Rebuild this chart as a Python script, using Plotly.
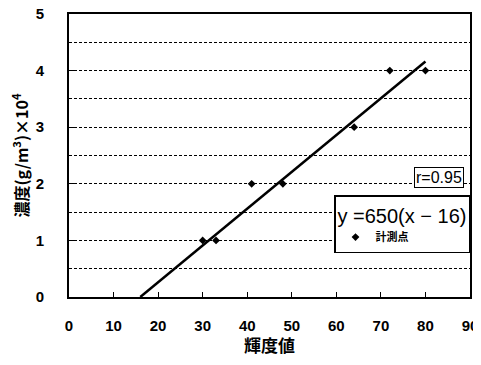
import plotly.graph_objects as go

# measured points
brightness = [30, 33, 41, 48, 64, 72, 80]
concentration = [1, 1, 2, 2, 3, 4, 4]

# regression y = 650 (x - 16), expressed in units of 10^4
fit_slope = 650
fit_x0 = 16
fit_x = [16, 80]
fit_y = [fit_slope * (x - fit_x0) / 1e4 for x in fit_x]

x_ticks = [0, 10, 20, 30, 40, 50, 60, 70, 80, 90]
y_ticks = [0, 1, 2, 3, 4, 5]
x_range = [0, 90]
y_range = [0, 5]

fig = go.Figure()
fig.add_trace(go.Scatter(x=fit_x, y=fit_y, mode="lines",
                         line=dict(color="black", width=2.5),
                         showlegend=False, hoverinfo="skip"))
fig.add_trace(go.Scatter(x=brightness, y=concentration, mode="markers",
                         xaxis="x2", yaxis="y2",
                         name="<b>計測点</b>",
                         marker=dict(symbol="diamond", size=6, color="black")))

sans = "Liberation Sans, Arial"
tickfont = dict(family=sans, size=15, color="black")
dash = "3px,2px"

fig.update_layout(
    width=473, height=349,
    margin=dict(l=61, r=11, t=6, b=60, autoexpand=False),
    plot_bgcolor="white", paper_bgcolor="white",
    font=dict(family=sans, color="black"),
    xaxis=dict(range=x_range, tickmode="array", tickvals=x_ticks,
               ticktext=[f"<b>{v}</b>" for v in x_ticks],
               ticks="outside", ticklen=14, tickcolor="white",
               ticklabeloverflow="allow", automargin=False,
               showline=True, linecolor="black", linewidth=2, mirror=True,
               showgrid=False, zeroline=False, tickfont=tickfont,
               title=dict(text="<b>輝度値</b>",
                          font=dict(family="Noto Sans CJK JP", size=17, color="black"),
                          standoff=7)),
    yaxis=dict(range=y_range, tickmode="array", tickvals=y_ticks,
               ticktext=[f"<b>{v}</b>" for v in y_ticks],
               ticks="outside", ticklen=20, tickcolor="white",
               ticklabeloverflow="allow", automargin=False,
               showline=True, linecolor="black", linewidth=2, mirror=True,
               zeroline=False,
               showgrid=True, gridcolor="black", griddash=dash, gridwidth=1,
               minor=dict(tickmode="linear", dtick=0.5, showgrid=True,
                          gridcolor="black", griddash=dash, gridwidth=1),
               tickfont=tickfont,
               title=dict(text="<b>濃度(g/m<sup>3</sup>)×10<sup>4</sup></b>",
                          font=dict(family="Noto Sans CJK JP", size=16, color="black"),
                          standoff=8)),
    xaxis2=dict(range=x_range, overlaying="x", anchor="y2", side="bottom",
                tickmode="array", tickvals=x_ticks, ticks="inside", ticklen=5,
                tickwidth=1, tickcolor="black", showticklabels=False,
                showgrid=False, zeroline=False, automargin=False,
                showline=True, linecolor="black", linewidth=2, mirror=True),
    yaxis2=dict(range=y_range, overlaying="y", anchor="x2", side="left",
                tickmode="array", tickvals=y_ticks, ticks="inside", ticklen=5,
                tickwidth=1, tickcolor="black", showticklabels=False,
                showgrid=False, zeroline=False, automargin=False,
                showline=True, linecolor="black", linewidth=2, mirror=True),
    legend=dict(x=1.0, xanchor="right", y=0.36, yanchor="top",
                bgcolor="white", bordercolor="black", borderwidth=1.5,
                title=dict(text="y =650(x − 16)",
                           font=dict(family=sans, size=20, color="black")),
                font=dict(family="Noto Sans CJK JP", size=11, color="black"),
                tracegroupgap=0),
    annotations=[dict(text="r=0.95", xref="paper", yref="paper",
                      x=0.985, y=0.424, xanchor="right", yanchor="middle",
                      showarrow=False, bordercolor="black", borderwidth=1,
                      borderpad=1, bgcolor="white",
                      font=dict(family=sans, size=16, color="black"))],
)
fig.write_html("out.html")
